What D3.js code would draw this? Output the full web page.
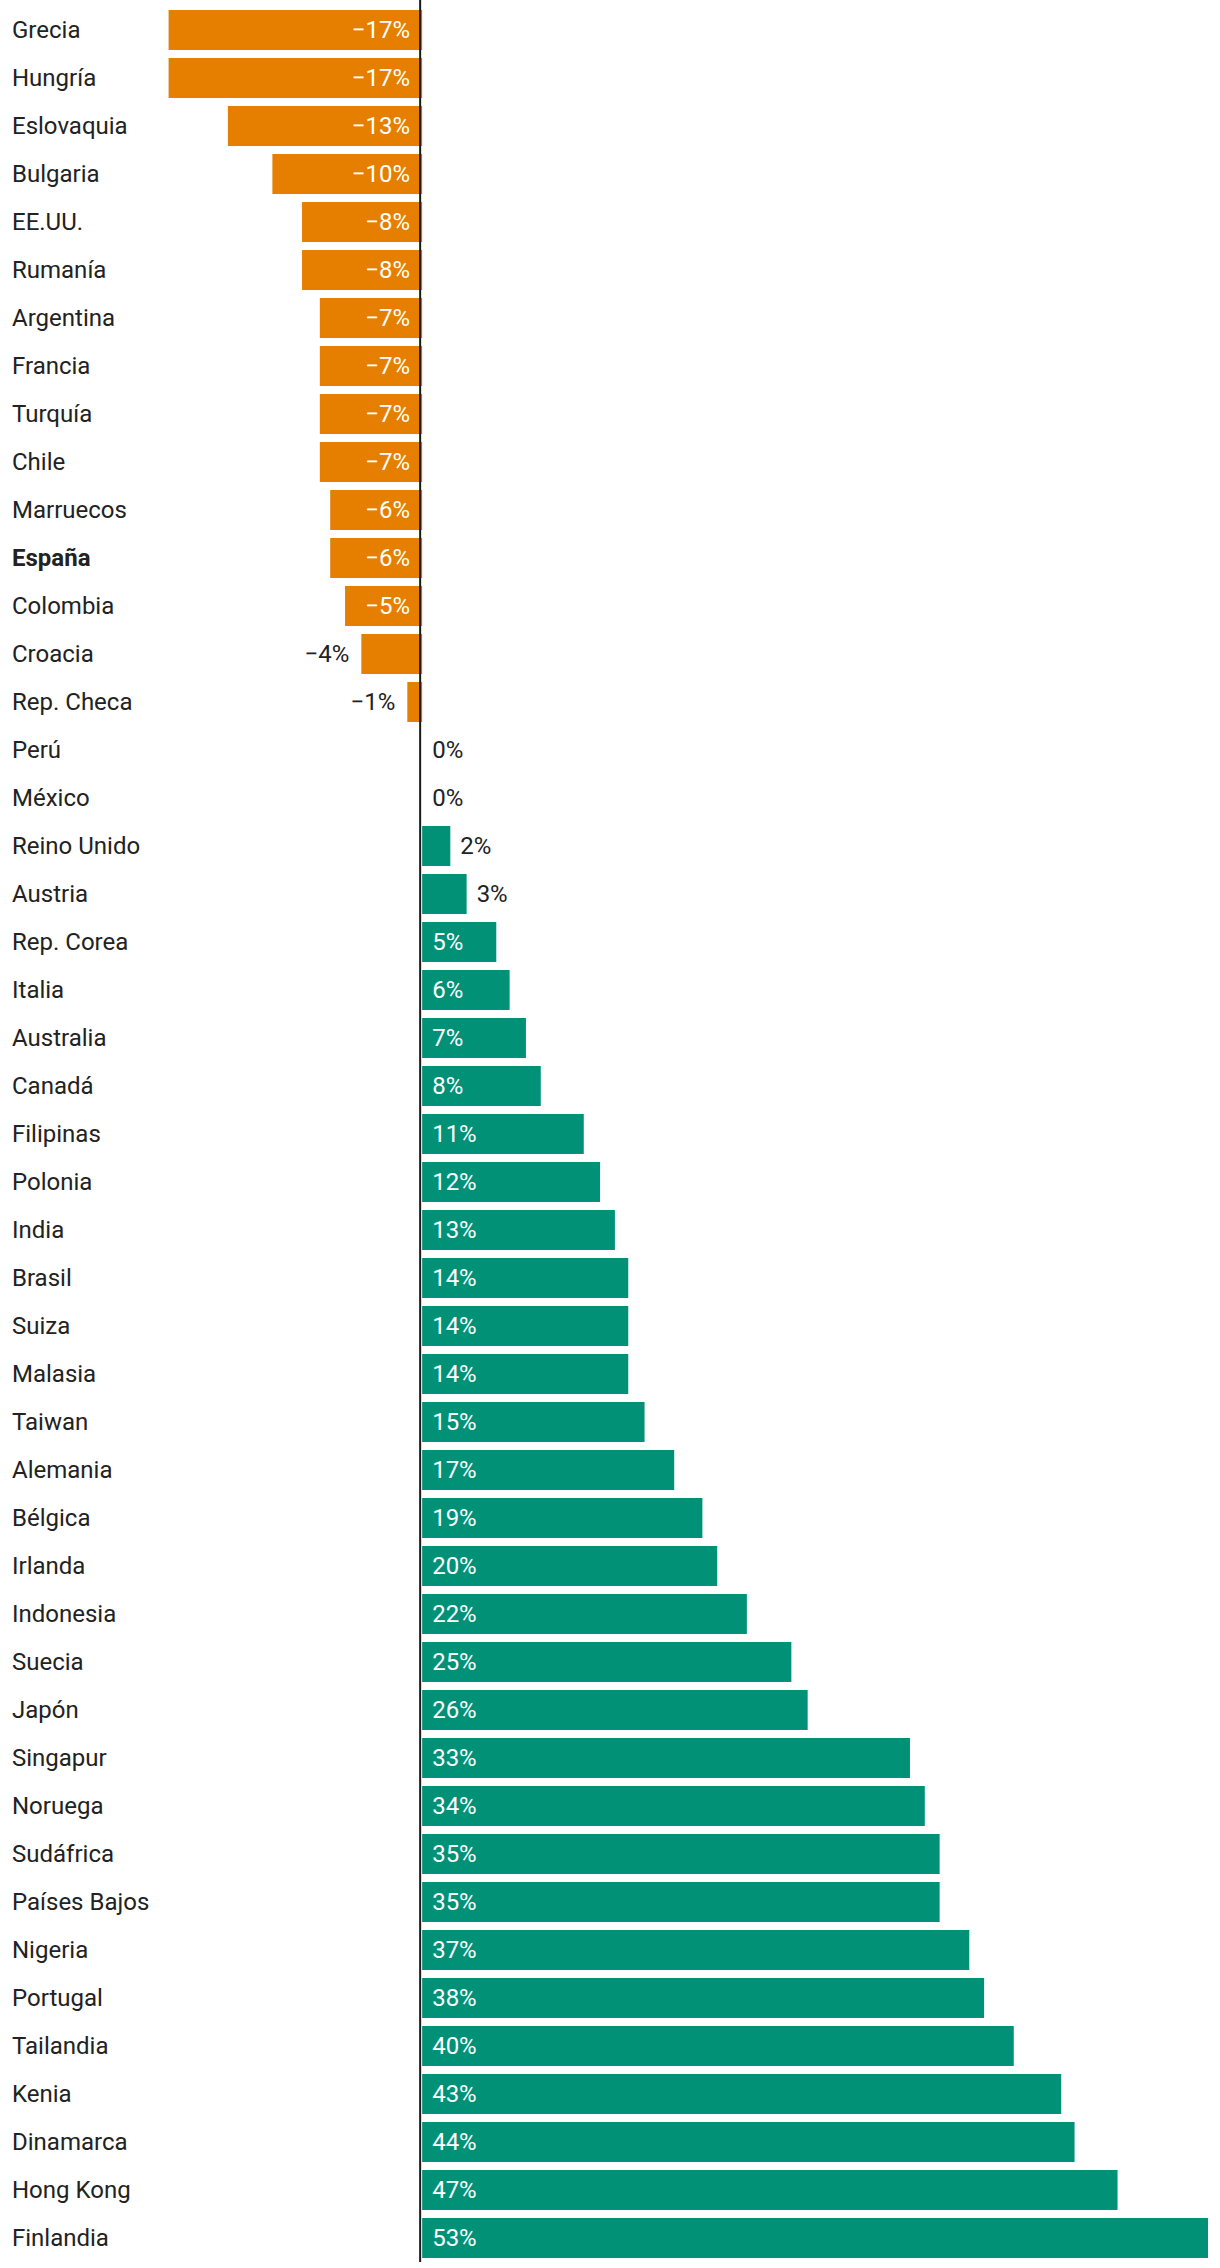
<!DOCTYPE html>
<html>
<head>
<meta charset="utf-8">
<script src="https://cdn.jsdelivr.net/npm/d3@7"></script>
<style>
  body { margin: 0; background: #fff; }
  svg text { font-family: Roboto, "Noto Sans", sans-serif; }
</style>
</head>
<body>
<div id="chart"></div>
<script>
// countries, top to bottom
var countries = ["Grecia", "Hungría", "Eslovaquia", "Bulgaria", "EE.UU.", "Rumanía", "Argentina",
    "Francia", "Turquía", "Chile", "Marruecos", "España", "Colombia", "Croacia", "Rep. Checa",
    "Perú", "México", "Reino Unido", "Austria", "Rep. Corea", "Italia", "Australia", "Canadá",
    "Filipinas", "Polonia", "India", "Brasil", "Suiza", "Malasia", "Taiwan", "Alemania", "Bélgica",
    "Irlanda", "Indonesia", "Suecia", "Japón", "Singapur", "Noruega", "Sudáfrica", "Países Bajos",
    "Nigeria", "Portugal", "Tailandia", "Kenia", "Dinamarca", "Hong Kong", "Finlandia"];

// change in %
var values = [-17.1, -17.1, -13.1, -10.1, -8.1, -8.1, -6.9, -6.9, -6.9, -6.9, -6.2, -6.2, -5.2, -4.1, -1.0,
    0, 0, 1.9, 3.0, 5.0, 5.9, 7.0, 8.0, 10.9, 12.0, 13.0, 13.9, 13.9, 13.9, 15.0, 17.0, 18.9,
    19.9, 21.9, 24.9, 26.0, 32.9, 33.9, 34.9, 34.9, 36.9, 37.9, 39.9, 43.1, 44.0, 46.9, 53.0];

var highlight = ["España"];

var width = 1220, height = 2268;

var data = countries.map(function(c, i) { return { name: c, value: values[i] }; });

var svg = d3.select("#chart")
    .append("svg")
    .attr("width", width)
    .attr("height", height);

var x = d3.scaleLinear()
    .domain([-17.14, 53])
    .range([168, 1208]);

var y = d3.scaleBand()
    .domain(countries)
    .range([10 - 4, 10 + 47 * 48 - 4])
    .paddingInner(8 / 48)
    .paddingOuter(4 / 48);

// bars
svg.selectAll("rect.bar")
    .data(data.filter(d => d.value !== 0))
    .enter()
    .append("rect")
    .attr("class", "bar")
    .attr("x", d => x(Math.min(0, d.value)))
    .attr("y", d => y(d.name))
    .attr("width", d => Math.abs(x(d.value) - x(0)))
    .attr("height", y.bandwidth())
    .attr("fill", d => d.value < 0 ? "#e67f00" : "#009177");

// zero line
svg.append("line")
    .attr("x1", x(0) - 2)
    .attr("x2", x(0) - 2)
    .attr("y1", 0)
    .attr("y2", 2262)
    .attr("stroke", "#1a1a1a")
    .attr("stroke-width", 2);

// country names
svg.selectAll("text.name")
    .data(data)
    .enter()
    .append("text")
    .attr("class", "name")
    .attr("x", 12)
    .attr("y", d => y(d.name) + y.bandwidth() / 2)
    .attr("dy", "0.35em")
    .attr("font-size", "24px")
    .attr("font-weight", d => highlight.indexOf(d.name) >= 0 ? "bold" : "normal")
    .attr("fill", "#222")
    .text(d => d.name);

// value labels: inside long bars, outside short ones
function inside(d) { return Math.abs(x(d.value) - x(0)) > 66; }

svg.selectAll("text.val")
    .data(data)
    .enter()
    .append("text")
    .attr("class", "val")
    .attr("x", function(d) {
        if (d.value < 0) return inside(d) ? x(0) - 12 : x(d.value) - 12;
        return inside(d) ? x(0) + 10 : x(d.value) + 10;
    })
    .attr("y", d => y(d.name) + y.bandwidth() / 2)
    .attr("dy", "0.35em")
    .attr("text-anchor", d => d.value < 0 ? "end" : "start")
    .attr("font-size", "24px")
    .attr("fill", d => inside(d) ? "#fff" : "#222")
    .text(d => (Math.round(d.value) < 0 ? "\u2212" : "") + Math.abs(Math.round(d.value)) + "%");
</script>
</body>
</html>
